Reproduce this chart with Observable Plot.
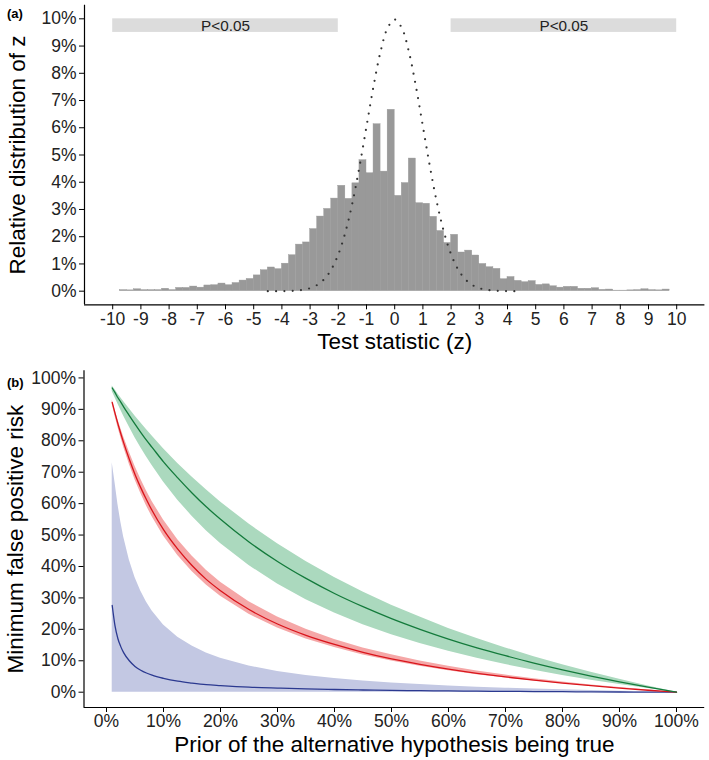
<!DOCTYPE html>
<html><head><meta charset="utf-8">
<script src="https://cdn.jsdelivr.net/npm/d3@7"></script>
<script src="https://cdn.jsdelivr.net/npm/@observablehq/plot@0.6"></script>
<style>
body{margin:0;background:#fff;font-family:"Liberation Sans",Arial,sans-serif;}
#wrap{position:relative;width:709px;height:760px;overflow:hidden;}
#a{position:absolute;left:0;top:0;}
#b{position:absolute;left:0;top:360px;}
.lab{position:absolute;font-weight:bold;font-size:13px;line-height:1;color:#000;}
</style></head><body><div id="wrap">
<div id="a"></div><div id="b"></div>
<div class="lab" style="left:7px;top:7px">(a)</div>
<div class="lab" style="left:7px;top:376px">(b)</div>
</div>
<script>
// ---------- Panel (a) data ----------
const binWidth = 0.25;
const firstBin = -9.75;
const histPct = [0.04,0.03,0.07,0.04,0.04,0.04,0.09,0.04,0.12,0.12,0.17,0.13,0.21,0.22,0.28,0.22,0.30,0.39,0.45,0.58,
  0.77,0.87,0.81,1.01,1.32,1.71,1.79,2.28,2.74,3.02,3.40,3.87,3.39,3.96,4.81,4.33,6.13,4.39,6.66,3.50,
  3.97,4.87,3.23,3.21,2.73,2.21,1.77,2.07,1.42,1.49,1.31,1.00,0.88,0.82,0.44,0.52,0.38,0.33,0.37,0.23,
  0.25,0.18,0.13,0.16,0.16,0.09,0.09,0.11,0.05,0.06,0.02,0.02,0.03,0.04,0.07,0.04,0.03,0.06];
const normalZ = [-4.5,-4.25,-4,-3.75,-3.5,-3.25,-3,-2.75,-2.5,-2.25,-2,-1.75,-1.5,-1.25,-1,-0.75,-0.5,-0.25,0,
  0.25,0.5,0.75,1,1.25,1.5,1.75,2,2.25,2.5,2.75,3,3.25,3.5,3.75,4,4.25,4.5];
const normalPct = [0.0004,0.001,0.003,0.009,0.022,0.051,0.111,0.227,0.438,0.794,1.350,2.157,3.238,4.566,6.049,7.528,8.802,9.667,9.974,
  9.667,8.802,7.528,6.049,4.566,3.238,2.157,1.350,0.794,0.438,0.227,0.111,0.051,0.022,0.009,0.003,0.001,0.0004];
const sigLabels = ["P<0.05","P<0.05"];
const sigFrom = [-10, 2];
const sigTo = [-2, 10];
const sigLow = [9.5, 9.5];
const sigHigh = [10, 10];
const xTicksA = [-10,-9,-8,-7,-6,-5,-4,-3,-2,-1,0,1,2,3,4,5,6,7,8,9,10];
const yTicksA = [0,1,2,3,4,5,6,7,8,9,10];

// ---------- Panel (b) data ----------
const prior = [1,1.5,2,2.5,3,4,5,6,7,8,10,12.5,15,17.5,20,25,30,35,40,45,50,55,60,65,70,75,80,85,90,95,100];
const greenMid = [96.8,95.3,93.7,92.3,90.8,88.0,85.3,82.7,80.2,77.9,73.3,68.2,63.4,59.0,55.0,47.8,41.6,36.2,31.4,27.2,23.4,20.0,16.9,14.1,11.6,9.25,7.10,5.12,3.29,1.58,0];
const greenHi = [97.4,96.2,94.9,93.7,92.5,90.2,87.9,85.7,83.6,81.5,77.5,72.8,68.5,64.4,60.5,53.5,47.2,41.6,36.5,31.9,27.7,23.9,20.3,17.1,14.1,11.3,8.74,6.33,4.08,1.98,0];
const greenLo = [95.7,93.7,91.7,89.8,87.9,84.4,81.0,77.9,74.9,72.1,66.9,61.1,56.0,51.4,47.3,40.3,34.4,29.4,25.2,21.5,18.3,15.5,13.0,10.8,8.78,6.97,5.32,3.81,2.44,1.17,0];
const redMid = [92.2,88.7,85.4,82.3,79.4,74.1,69.3,65.1,61.3,57.8,51.7,45.5,40.3,35.9,32.3,26.3,21.7,18.1,15.2,12.7,10.6,8.88,7.35,6.02,4.85,3.82,2.89,2.06,1.31,0.62,0];
const redHi = [93.0,89.8,86.8,84.0,81.3,76.4,71.9,67.8,64.1,60.7,54.8,48.5,43.3,38.8,35.0,28.8,23.9,20.0,16.8,14.1,11.9,9.92,8.23,6.76,5.45,4.29,3.26,2.32,1.47,0.70,0];
const redLo = [91.6,87.8,84.3,81.1,78.0,72.5,67.6,63.3,59.3,55.8,49.7,43.5,38.4,34.1,30.5,24.8,20.4,16.9,14.2,11.8,9.90,8.25,6.83,5.59,4.50,3.53,2.67,1.90,1.21,0.58,0];
const blueMid = [27.6,21.0,17.0,14.5,12.6,10.0,8.2,7.0,6.1,5.4,4.4,3.5,2.9,2.4,2.1,1.6,1.3,1.05,0.85,0.7,0.58,0.48,0.4,0.32,0.26,0.2,0.15,0.1,0.06,0.03,0];
const blueHi = [73.0,66.6,59.8,54.2,49.5,42.1,36.5,32.2,28.7,25.8,21.4,17.5,14.7,12.5,10.8,8.33,6.60,5.33,4.35,3.57,2.94,2.42,1.98,1.61,1.28,1.0,0.75,0.53,0.34,0.16,0];
const blueLo = [0,0,0,0,0,0,0,0,0,0,0,0,0,0,0,0,0,0,0,0,0,0,0,0,0,0,0,0,0,0,0];
const xTicksB = [0,10,20,30,40,50,60,70,80,90,100];
const yTicksB = [0,10,20,30,40,50,60,70,80,90,100];

// ---------- tables ----------
const hist = histPct.map((v, i) => ({x1: firstBin + i * binWidth, x2: firstBin + (i + 1) * binWidth, pct: v}));
const normal = normalZ.map((z, i) => ({z, pct: normalPct[i]}));
const sig = sigLabels.map((t, i) => ({label: t, x1: sigFrom[i], x2: sigTo[i], y1: sigLow[i], y2: sigHigh[i]}));
const bData = prior.map((p, i) => ({p, gm: greenMid[i], gh: greenHi[i], gl: greenLo[i],
  rm: redMid[i], rh: redHi[i], rl: redLo[i], bm: blueMid[i], bh: blueHi[i], bl: blueLo[i]}));

const FONT = "Liberation Sans, Arial, sans-serif";
const TICKFS = 17.5, TITLEFS = 22.5, AXC = "#222";

const plotA = Plot.plot({
  width: 709, height: 360,
  marginLeft: 84, marginRight: 4.6, marginTop: 4.7, marginBottom: 55.7,
  style: {fontFamily: FONT, background: "#fff", color: "#000", overflow: "visible"},
  x: {domain: [-11, 11], label: null},
  y: {domain: [-0.5, 10.5], label: null},
  marks: [
    Plot.rect(sig, {x1: "x1", x2: "x2", y1: "y1", y2: "y2", fill: "#dcdcdc"}),
    Plot.text(sig, {x: d => (d.x1 + d.x2) / 2, y: d => (d.y1 + d.y2) / 2, text: "label", fontSize: 15.3, fill: "#222", fontFamily: FONT}),
    Plot.rectY(hist, {x1: "x1", x2: "x2", y: "pct", fill: "#999999", stroke: "#999999", strokeWidth: 0.4}),
    Plot.line(normal, {x: "z", y: "pct", curve: "catmull-rom", stroke: "#333", strokeWidth: 2.2, strokeDasharray: "0 8.3", strokeLinecap: "round"}),
    Plot.axisX({ticks: xTicksA, tickFormat: d => String(d), tickSize: 5, tickPadding: 3, fontSize: TICKFS, label: null, fill: AXC, stroke: "#000"}),
    Plot.axisY({ticks: yTicksA, tickFormat: d => d + "%", tickSize: 5, tickPadding: 3, fontSize: TICKFS, label: null, fill: AXC, stroke: "#000"}),
    Plot.ruleX([-11], {stroke: "#000", strokeWidth: 1.2}),
    Plot.ruleY([-0.5], {stroke: "#000", strokeWidth: 1.2}),
    Plot.text(["Test statistic (z)"], {text: d => d, frameAnchor: "bottom", dy: 37, textAnchor: "middle", lineAnchor: "middle", fontSize: TITLEFS, fill: "#000", fontFamily: FONT}),
    Plot.text(["Relative distribution of z"], {text: d => d, frameAnchor: "left", dx: -67, rotate: -90, textAnchor: "middle", lineAnchor: "middle", fontSize: TITLEFS, fill: "#000", fontFamily: FONT})
  ]
});
document.getElementById("a").appendChild(plotA);

const plotB = Plot.plot({
  width: 709, height: 400,
  marginLeft: 83.5, marginRight: 4.8, marginTop: 10.2, marginBottom: 53,
  style: {fontFamily: FONT, background: "#fff", color: "#000", overflow: "visible"},
  x: {domain: [-3.95, 104.95], label: null},
  y: {domain: [-4.87, 102.3], label: null},
  marks: [
    Plot.areaY(bData, {x: "p", y1: "bl", y2: "bh", fill: "#c3c8e3"}),
    Plot.areaY(bData, {x: "p", y1: "rl", y2: "rh", fill: "#f5a7a7"}),
    Plot.areaY(bData, {x: "p", y1: "gl", y2: "gh", fill: "#abd9be"}),
    Plot.line(bData, {x: "p", y: "bm", stroke: "#2b3990", strokeWidth: 1.3, curve: "monotone-x"}),
    Plot.line(bData, {x: "p", y: "rm", stroke: "#d9141b", strokeWidth: 1.3, curve: "monotone-x"}),
    Plot.line(bData, {x: "p", y: "gm", stroke: "#137a3b", strokeWidth: 1.3, curve: "monotone-x"}),
    Plot.axisX({ticks: xTicksB, tickFormat: d => d + "%", tickSize: 5, tickPadding: 2, fontSize: TICKFS, label: null, fill: AXC, stroke: "#000"}),
    Plot.axisY({ticks: yTicksB, tickFormat: d => d + "%", tickSize: 5, tickPadding: 3, fontSize: TICKFS, label: null, fill: AXC, stroke: "#000"}),
    Plot.ruleX([-3.95], {stroke: "#000", strokeWidth: 1.2}),
    Plot.ruleY([-4.87], {stroke: "#000", strokeWidth: 1.2}),
    Plot.text(["Prior of the alternative hypothesis being true"], {text: d => d, frameAnchor: "bottom", dy: 37, textAnchor: "middle", lineAnchor: "middle", fontSize: TITLEFS, fill: "#000", fontFamily: FONT}),
    Plot.text(["Minimum false positive risk"], {text: d => d, frameAnchor: "left", dx: -68, rotate: -90, textAnchor: "middle", lineAnchor: "middle", fontSize: TITLEFS, fill: "#000", fontFamily: FONT})
  ]
});
document.getElementById("b").appendChild(plotB);
</script>
</body></html>
